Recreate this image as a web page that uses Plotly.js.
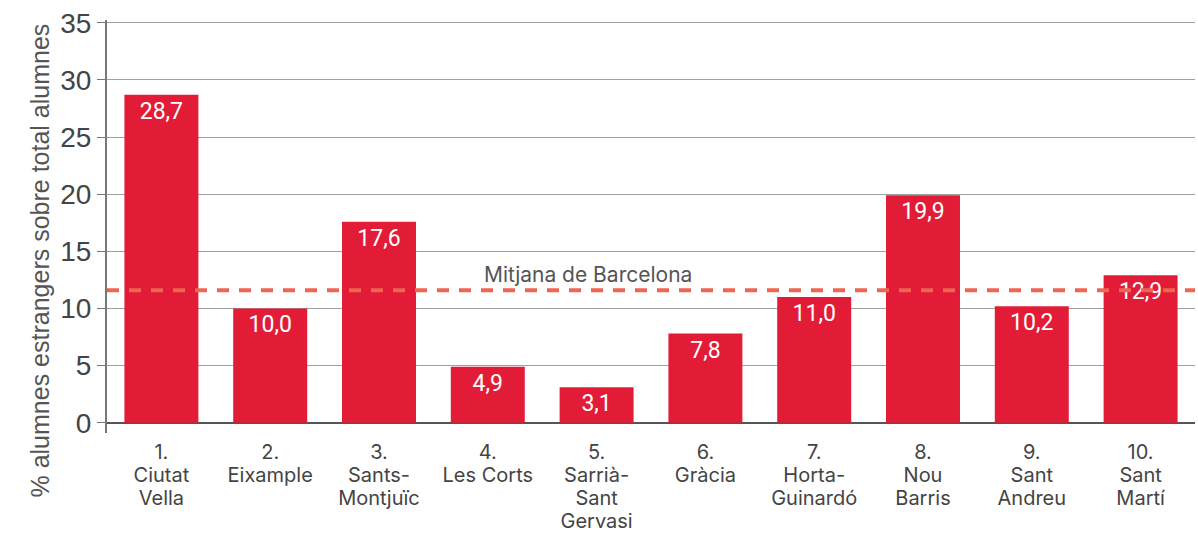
<!DOCTYPE html>
<html>
<head>
<meta charset="utf-8">
<script src="https://cdn.plot.ly/plotly-3.0.1.min.js"></script>
<style>html,body{margin:0;padding:0;background:#fff;}#chart{width:1198px;height:534px;}</style>
</head>
<body>
<div id="chart"></div>
<script>
const categories = ["1.<br>Ciutat<br>Vella", "2.<br>Eixample", "3.<br>Sants-<br>Montjuïc", "4.<br>Les Corts", "5.<br>Sarrià-<br>Sant<br>Gervasi", "6.<br>Gràcia", "7.<br>Horta-<br>Guinardó", "8.<br>Nou<br>Barris", "9.<br>Sant<br>Andreu", "10.<br>Sant<br>Martí"];
const values = [28.7, 10.0, 17.6, 4.9, 3.1, 7.8, 11.0, 19.9, 10.2, 12.9];
const meanValue = 11.6;
const meanLabel = "Mitjana de Barcelona";
const yTitle = "% alumnes estrangers sobre total alumnes";
const yTicks = [0, 5, 10, 15, 20, 25, 30, 35];

const trace = {
  type: 'bar',
  x: categories,
  y: values,
  marker: {color: '#E21C36'},
  texttemplate: '%{y:.1f}',
  textposition: 'inside',
  insidetextanchor: 'end',
  textfont: {family: 'Roboto, sans-serif', size: 23, color: '#ffffff'},
  hoverinfo: 'skip'
};

const layout = {
  width: 1198, height: 534,
  margin: {l: 107, r: 3, t: 20, b: 101},
  paper_bgcolor: '#ffffff', plot_bgcolor: '#ffffff',
  separators: ',.',
  bargap: 0.32,
  showlegend: false,
  font: {family: 'Inter, sans-serif', color: '#444'},
  xaxis: {
    type: 'category',
    showgrid: false, showline: false, zeroline: false,
    ticks: 'outside', ticklen: 1, tickcolor: 'rgba(0,0,0,0)',
    tickfont: {family: 'Inter, sans-serif', size: 20, color: '#444'}
  },
  yaxis: {
    range: [-0.9, 35.25],
    tickvals: yTicks,
    showgrid: true, gridcolor: '#a0a0a0', gridwidth: 1,
    zeroline: true, zerolinecolor: '#555555', zerolinewidth: 2,
    showline: true, linecolor: '#777777', linewidth: 2,
    ticks: 'outside', ticklen: 8, tickcolor: '#777777', tickwidth: 1,
    tickfont: {family: '"Liberation Sans", Arial, sans-serif', size: 28, color: '#444'},
    fixedrange: true
  },
  shapes: [{
    type: 'line', xref: 'paper', yref: 'y',
    x0: 0, x1: 1, y0: meanValue, y1: meanValue,
    line: {color: '#EE6552', width: 4, dash: '12px,10px'},
    layer: 'above'
  }],
  annotations: [{
    xref: 'paper', yref: 'y', x: 0.442, y: meanValue,
    yanchor: 'bottom', yshift: 1, showarrow: false,
    text: meanLabel,
    font: {family: 'Inter, sans-serif', size: 21, color: '#555'}
  }, {
    xref: 'paper', yref: 'paper', x: -0.062, y: 0.4165,
    xanchor: 'center', yanchor: 'middle', textangle: -90, showarrow: false,
    text: yTitle,
    font: {family: '"Liberation Sans", Arial, sans-serif', size: 25, color: '#555'}
  }]
};

Plotly.newPlot('chart', [trace], layout, {displayModeBar: false, staticPlot: true}).then(function (gd) {
  // tighten multi-line category label spacing a little, toward the reference
  gd.querySelectorAll('.xtick text tspan.line').forEach(function (t) {
    const dy = parseFloat(t.getAttribute('dy'));
    if (!isNaN(dy)) t.setAttribute('dy', (dy / 1.3 * 1.15) + 'em');
  });
});
</script>
</body>
</html>
